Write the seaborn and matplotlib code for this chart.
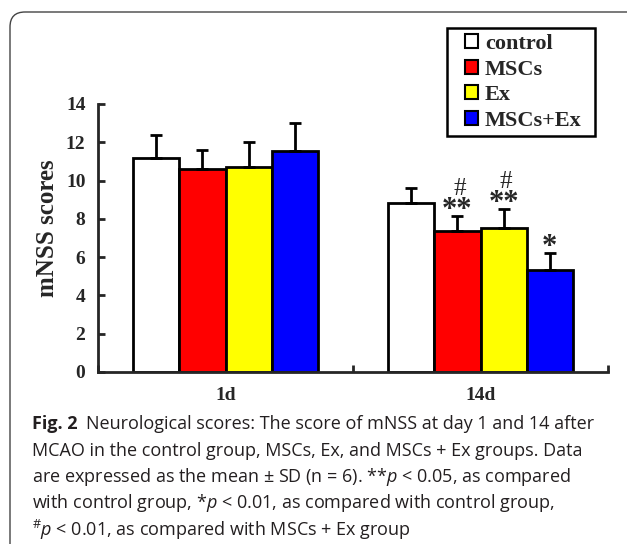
import matplotlib
matplotlib.use("Agg")
import matplotlib.pyplot as plt
import pandas as pd
import seaborn as sns
from matplotlib.patches import Patch, Rectangle, FancyBboxPatch
from matplotlib.ticker import FixedLocator

groups = ["control", "MSCs", "Ex", "MSCs+Ex"]
days = ["1d", "14d"]
colors = ["#FFFFFF", "#FF0000", "#FFFF00", "#0000FF"]

mean_1d = [11.2, 10.58, 10.7, 11.55]
sd_1d = [1.2, 1.04, 1.33, 1.48]
mean_14d = [8.83, 7.34, 7.53, 5.33]
sd_14d = [0.77, 0.82, 1.0, 0.88]

star_14d = ["", "**", "**", "*"]
hash_14d = ["", "#", "#", ""]

yticks = [0, 2, 4, 6, 8, 10, 12, 14]

fig_label = "Fig. 2"
caption = [
    "Neurological scores: The score of mNSS at day 1 and 14 after",
    "MCAO in the control group, MSCs, Ex, and MSCs + Ex groups. Data",
    r"are expressed as the mean ± SD (n = 6). **$p$ < 0.05, as compared",
    r"with control group, *$p$ < 0.01, as compared with control group,",
    r"$^{\#}p$ < 0.01, as compared with MSCs + Ex group",
]

df = pd.DataFrame({
    "day": [d for d in days for _ in groups],
    "group": groups * 2,
    "score": mean_1d + mean_14d,
    "sd": sd_1d + sd_14d,
})

sns.set_style("ticks")
plt.rcParams["font.family"] = ["Liberation Serif", "DejaVu Serif"]
plt.rcParams["mathtext.fontset"] = "custom"
plt.rcParams["mathtext.rm"] = "Open Sans"
plt.rcParams["mathtext.it"] = "Open Sans:italic"
plt.rcParams["mathtext.bf"] = "Open Sans:bold"

W, H = 627, 544
fig = plt.figure(figsize=(W / 100, H / 100), dpi=100)
ax = fig.add_axes([98 / W, 1 - 372 / H, 510 / W, 268 / H])

sns.barplot(data=df, x="day", y="score", hue="group", order=days,
            hue_order=groups, palette=colors, saturation=1, width=0.725,
            errorbar=None, edgecolor="black", linewidth=2, legend=False, ax=ax)

# error bars (upper only) and significance marks
sds = {"1d": sd_1d, "14d": sd_14d}
bar_sets = list(ax.containers)
for i, cont in enumerate(bar_sets):
    for j, bar in enumerate(cont):
        x = bar.get_x() + bar.get_width() / 2
        top = bar.get_height()
        sd = sds[days[j]][i]
        ax.errorbar(x, top, yerr=[[0], [sd]], fmt="none", ecolor="black",
                    elinewidth=2, capsize=4, capthick=2, zorder=1)
        if days[j] == "14d":
            if star_14d[i]:
                ax.text(x, top + sd - 0.1, star_14d[i], ha="center", va="baseline",
                        fontsize=22, fontweight="bold")
            if hash_14d[i]:
                ax.text(x + 0.01, top + sd + 1.08, hash_14d[i], ha="center",
                        va="baseline", fontsize=18)

ax.set_xlim(-0.5, 1.5)
ax.set_ylim(0, 14)
ax.set_yticks(yticks)
ax.xaxis.set_major_locator(FixedLocator([-0.5, 0.5, 1.5]))
ax.xaxis.set_minor_locator(FixedLocator([0, 1]))
ax.set_xticklabels([], minor=False)
ax.set_xticklabels(days, minor=True)
ax.tick_params(axis="x", which="major", direction="in", length=5, width=2)
ax.tick_params(axis="x", which="minor", length=0, pad=11, labelsize=14)
ax.tick_params(axis="y", direction="in", length=5, width=2, pad=9, labelsize=14)
for lab in ax.get_xticklabels(minor=True) + ax.get_yticklabels():
    lab.set_fontweight("bold")

sns.despine(ax=ax)
ax.spines["left"].set_linewidth(2)
ax.spines["bottom"].set_linewidth(2)
ax.spines["left"].set_bounds(0, 14)

ax.set_xlabel("")
ax.set_ylabel("mNSS scores", fontsize=18, fontweight="bold")
ax.yaxis.label.set_va("center")
ax.yaxis.set_label_coords(-0.1, 0.537)

# legend with its own box
handles = [Patch(facecolor=c, edgecolor="black", linewidth=1.5) for c in colors]
fig.legend(handles, groups, loc="upper left", bbox_to_anchor=(465 / W, 1 - 34 / H),
           frameon=False, prop={"weight": "bold", "size": 16}, borderpad=0,
           borderaxespad=0, handlelength=0.6, handleheight=0.6,
           handletextpad=0.3, labelspacing=0.25)
fig.add_artist(Rectangle((447 / W, 1 - 136 / H), 148 / W, 108 / H,
                         transform=fig.transFigure, fill=False,
                         edgecolor="black", linewidth=1.8))

# rounded outer frame
fig.add_artist(FancyBboxPatch((0.1, -0.5), 6.4, 5.32 + 0.5,
                              boxstyle="round,pad=0,rounding_size=0.15",
                              transform=fig.dpi_scale_trans, fill=False,
                              edgecolor="#444444", linewidth=1, clip_on=False))

# caption
cap_kw = dict(fontsize=13, family="Open Sans", color="#231f20", va="center",
              ha="left")
line_y = [424 + 26.5 * k for k in range(len(caption))]
fig.text(32 / W, 1 - line_y[0] / H, fig_label, fontweight="bold", **cap_kw)
fig.text(86 / W, 1 - line_y[0] / H, caption[0], **cap_kw)
for k in range(1, len(caption)):
    fig.text(32 / W, 1 - line_y[k] / H, caption[k], **cap_kw)

fig.savefig("out.png", dpi=100)
